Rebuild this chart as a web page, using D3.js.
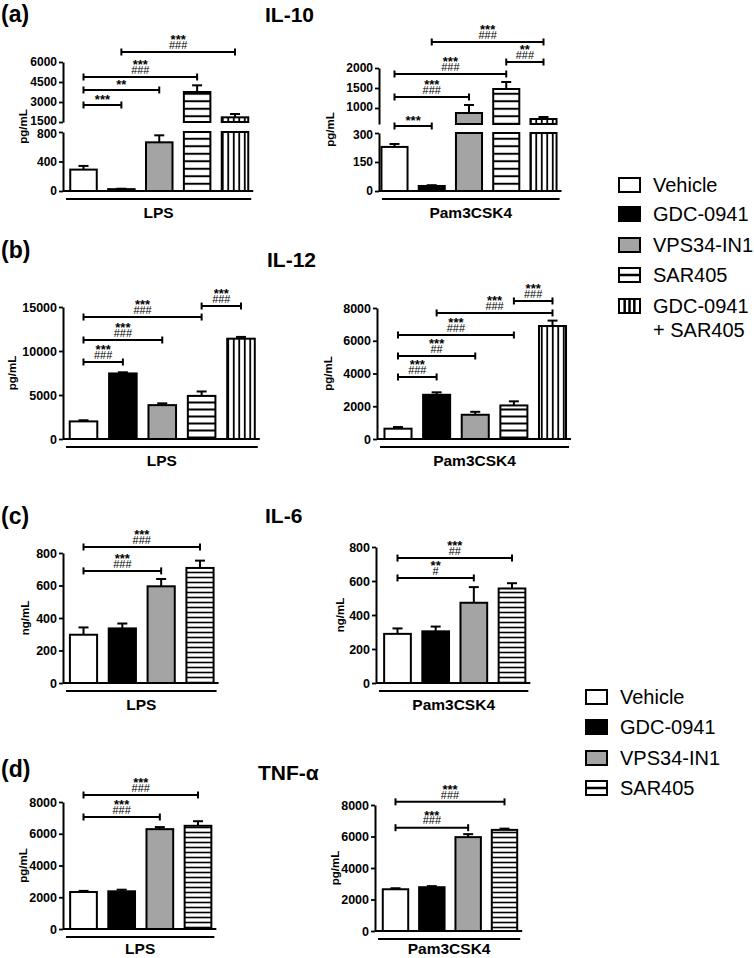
<!DOCTYPE html>
<html><head><meta charset="utf-8">
<script src="https://cdn.jsdelivr.net/npm/d3@7"></script>
<style>
body{margin:0;background:#fff}
svg{display:block}
text{font-family:"Liberation Sans",Arial,Helvetica,sans-serif;fill:#000}
.sig{width:80px;text-align:center;white-space:pre;font-family:"Liberation Sans",Arial,sans-serif;
  font-size:11px;line-height:5.5px;color:#000;margin:0}
.sig::first-line{font-weight:bold;font-size:13px}
</style>
</head><body>
<svg id="chart" width="754" height="958"></svg>
<script>
// ---------------- DATA ----------------
const treatments5 = ["Vehicle","GDC-0941","VPS34-IN1","SAR405","GDC-0941 + SAR405"];
const treatments4 = ["Vehicle","GDC-0941","VPS34-IN1","SAR405"];
const stimuli = ["LPS","Pam3CSK4"];
const cytokines = ["IL-10","IL-12","IL-6","TNF-\u03b1"];
const panelLetters = ["(a)","(b)","(c)","(d)"];

// IL-10 (pg/mL)
const il10LpsMean = [290, 25, 660, 3750, 1850];
const il10LpsErr  = [50, 6, 95, 500, 250];
const il10PamMean = [228, 26, 875, 1475, 725];
const il10PamErr  = [15, 4, 200, 175, 50];
// IL-12 (pg/mL)
const il12LpsMean = [2000, 7450, 3850, 4900, 11400];
const il12LpsErr  = [130, 130, 200, 500, 200];
const il12PamMean = [630, 2700, 1480, 2050, 6900];
const il12PamErr  = [100, 150, 180, 250, 330];
// IL-6 (ng/mL)
const il6LpsMean = [297, 336, 595, 708];
const il6LpsErr  = [45, 30, 45, 45];
const il6PamMean = [289, 304, 472, 556];
const il6PamErr  = [32, 28, 92, 31];
// TNF-alpha (pg/mL)
const tnfLpsMean = [2330, 2375, 6290, 6500];
const tnfLpsErr  = [70, 100, 130, 290];
const tnfPamMean = [2650, 2780, 5960, 6420];
const tnfPamErr  = [65, 70, 190, 80];

// tick labels
const il10LpsTicksLow = [0, 400, 800], il10LpsTicksHigh = [1500, 3000, 4500, 6000];
const il10PamTicksLow = [0, 150, 300], il10PamTicksHigh = [1000, 1500, 2000];
const il12LpsTicks = [0, 5000, 10000, 15000];
const il12PamTicks = [0, 2000, 4000, 6000, 8000];
const il6Ticks = [0, 200, 400, 600, 800];
const tnfTicks = [0, 2000, 4000, 6000, 8000];

// significance brackets: [from, to, height (data units), stars, hashes]
const il10LpsSig = [[0,1,2775,"***",""],[0,2,3900,"**",""],[0,3,4875,"***","###"],[1,4,6750,"***","###"]];
const il10PamSig = [[0,1,550,"***",""],[0,2,1275,"***","###"],[0,3,1850,"***","###"],[3,4,2150,"**","###"],[1,4,2650,"***","###"]];
const il12LpsSig = [[0,1,8750,"***","###"],[0,2,11250,"***","###"],[0,3,13860,"***","###"],[3,4,15110,"***","###"]];
const il12PamSig = [[0,1,3790,"***","###"],[0,2,5070,"***","##"],[0,3,6350,"***","###"],[1,4,7700,"***","###"],[3,4,8430,"***","###"]];
const il6LpsSig  = [[0,2,690,"***","###"],[0,3,837,"***","###"]];
const il6PamSig  = [[0,2,618,"**","#"],[0,3,735,"***","##"]];
const tnfLpsSig  = [[0,2,7055,"***","###"],[0,3,8440,"***","###"]];
const tnfPamSig  = [[0,2,6560,"***","###"],[0,3,8200,"***","###"]];

// ---------------- LAYOUT ----------------
const panels = [
 {row:0, cats:treatments5, mean:il10LpsMean, err:il10LpsErr, group:stimuli[0], sig:il10LpsSig, unit:"pg/mL",
  axisX:63, c0:83.5, cN:235, labX:23,
  broken:{low:[0,800], lowPx:[191,132], high:[1500,6000], highPx:[122,62], ticksLow:il10LpsTicksLow, ticksHigh:il10LpsTicksHigh}},
 {row:0, cats:treatments5, mean:il10PamMean, err:il10PamErr, group:stimuli[1], sig:il10PamSig, unit:"pg/mL",
  axisX:379, c0:394.5, cN:543.5, labX:330,
  broken:{low:[0,300], lowPx:[191,133], high:[600,2000], highPx:[124,68], ticksLow:il10PamTicksLow, ticksHigh:il10PamTicksHigh}},
 {row:1, cats:treatments5, mean:il12LpsMean, err:il12LpsErr, group:stimuli[0], sig:il12LpsSig, unit:"pg/mL",
  axisX:63, c0:83.5, cN:241, labX:12, dom:[0,15000], px:[439,307], ticks:il12LpsTicks},
 {row:1, cats:treatments5, mean:il12PamMean, err:il12PamErr, group:stimuli[1], sig:il12PamSig, unit:"pg/mL",
  axisX:377, c0:398, cN:552.5, labX:328, dom:[0,8000], px:[439,308], ticks:il12PamTicks},
 {row:2, cats:treatments4, mean:il6LpsMean, err:il6LpsErr, group:stimuli[0], sig:il6LpsSig, unit:"ng/mL",
  axisX:63, c0:83.5, cN:200, labX:25, dom:[0,800], px:[683,553], ticks:il6Ticks},
 {row:2, cats:treatments4, mean:il6PamMean, err:il6PamErr, group:stimuli[1], sig:il6PamSig, unit:"ng/mL",
  axisX:376, c0:397.5, cN:512, labX:340, dom:[0,800], px:[683,547], ticks:il6Ticks},
 {row:3, cats:treatments4, mean:tnfLpsMean, err:tnfLpsErr, group:stimuli[0], sig:tnfLpsSig, unit:"pg/mL",
  axisX:63, c0:83.5, cN:198, labX:23, dom:[0,8000], px:[929,802], ticks:tnfTicks},
 {row:3, cats:treatments4, mean:tnfPamMean, err:tnfPamErr, group:stimuli[1], sig:tnfPamSig, unit:"pg/mL",
  axisX:375, c0:395.5, cN:504.5, labX:335, dom:[0,8000], px:[931,805], ticks:tnfTicks}
];
const rowStyle = [
 {hSp:7.5, hW:2, vSp:5.5, vW:1.8, letterY:22, titleX:265, titleY:22},
 {hSp:7,   hW:2, vSp:5.5, vW:1.8, letterY:258, titleX:267, titleY:267},
 {hSp:5,   hW:1.6, vSp:5, vW:1.6, letterY:524, titleX:265, titleY:523},
 {hSp:5,   hW:1.6, vSp:5, vW:1.6, letterY:777, titleX:258, titleY:780}
];
const GRAY = "#a4a4a4";
const FONT_TICK = 12.5;

const svg = d3.select("#chart");
const defs = svg.append("defs");
rowStyle.forEach((s, r) => {
  const ph = defs.append("pattern").attr("id","h"+r).attr("patternUnits","userSpaceOnUse")
    .attr("width",10).attr("height",s.hSp);
  ph.append("rect").attr("width",10).attr("height",s.hSp).attr("fill","#fff");
  ph.append("rect").attr("y",(s.hSp - s.hW)/2).attr("width",10).attr("height",s.hW).attr("fill","#000");
  const pv = defs.append("pattern").attr("id","v"+r).attr("patternUnits","userSpaceOnUse")
    .attr("width",s.vSp).attr("height",10);
  pv.append("rect").attr("width",s.vSp).attr("height",10).attr("fill","#fff");
  pv.append("rect").attr("x",(s.vSp - s.vW)/2).attr("width",s.vW).attr("height",10).attr("fill","#000");
});
function fillFor(i, row){
  return ["#fff","#000",GRAY,`url(#h${row})`,`url(#v${row})`][i];
}

function styleAxis(g, size){
  g.select(".domain").attr("stroke","#000").attr("stroke-width",2);
  g.selectAll(".tick line").attr("stroke","#000").attr("stroke-width",1.8);
  g.selectAll(".tick text").attr("font-size",size || FONT_TICK).attr("font-weight","bold")
    .attr("font-family",'"Liberation Sans",Arial,sans-serif').attr("fill","#000");
}
const fmt = d3.format("d");

panels.forEach(p => {
  const g = svg.append("g");
  const n = p.cats.length;
  const step = (p.cN - p.c0) / (n - 1);
  const x = d3.scaleBand().domain(p.cats)
    .range([p.c0 - step/2, p.cN + step/2]).paddingInner(0.3).paddingOuter(0.15);
  const bw = x.bandwidth();
  let yLow, yHigh, y0px, topPx;
  if (p.broken) {
    yLow = d3.scaleLinear().domain(p.broken.low).range(p.broken.lowPx);
    yHigh = d3.scaleLinear().domain(p.broken.high).range(p.broken.highPx);
    const a1 = g.append("g").attr("transform",`translate(${p.axisX},0)`)
      .call(d3.axisLeft(yLow).tickValues(p.broken.ticksLow).tickFormat(fmt).tickSize(4).tickSizeOuter(0).tickPadding(2));
    const a2 = g.append("g").attr("transform",`translate(${p.axisX},0)`)
      .call(d3.axisLeft(yHigh).tickValues(p.broken.ticksHigh).tickFormat(fmt).tickSize(4).tickSizeOuter(0).tickPadding(2));
    styleAxis(a1, 12); styleAxis(a2, 12);
    // keep the two labels at the break apart
    const lowTop = p.broken.ticksLow[p.broken.ticksLow.length-1];
    const highBottom = p.broken.ticksHigh[0];
    a1.selectAll(".tick").filter(d => d === lowTop).select("text").attr("dy","0.48em");
    a2.selectAll(".tick").filter(d => d === highBottom).select("text").attr("dy","0.17em");
    y0px = yLow(0); topPx = yHigh.range()[1];
  } else {
    yLow = d3.scaleLinear().domain(p.dom).range(p.px);
    const a = g.append("g").attr("transform",`translate(${p.axisX},0)`)
      .call(d3.axisLeft(yLow).tickValues(p.ticks).tickFormat(fmt).tickSize(4).tickSizeOuter(0).tickPadding(2));
    styleAxis(a);
    y0px = yLow(0); topPx = yLow.range()[1];
  }
  // y label
  g.append("text").attr("transform",`translate(${p.labX + 4},${(y0px + topPx)/2}) rotate(-90)`)
    .attr("text-anchor","middle").attr("font-size",11.5).attr("font-weight","bold").text(p.unit);

  const lastEnd = x(p.cats[n-1]) + bw;
  // bars
  p.mean.forEach((v, i) => {
    const bx = x(p.cats[i]);
    const fill = fillFor(i, p.row);
    let errScale = yLow;
    if (p.broken) {
      const lowMax = p.broken.low[1], highMin = p.broken.high[0];
      const lt = Math.min(v, lowMax);
      g.append("rect").attr("x",bx).attr("y",yLow(lt)).attr("width",bw).attr("height",yLow(0)-yLow(lt))
        .attr("fill",fill).attr("stroke","#000").attr("stroke-width",2);
      if (v > highMin) {
        g.append("rect").attr("x",bx).attr("y",yHigh(v)).attr("width",bw).attr("height",yHigh(highMin)-yHigh(v))
          .attr("fill",fill).attr("stroke","#000").attr("stroke-width",2);
        errScale = yHigh;
      }
    } else {
      g.append("rect").attr("x",bx).attr("y",yLow(v)).attr("width",bw).attr("height",yLow(0)-yLow(v))
        .attr("fill",fill).attr("stroke","#000").attr("stroke-width",2);
    }
    const cx = bx + bw/2, e = p.err[i];
    g.append("line").attr("x1",cx).attr("x2",cx).attr("y1",errScale(v)).attr("y2",errScale(v+e))
      .attr("stroke","#000").attr("stroke-width",2);
    g.append("line").attr("x1",cx-5).attr("x2",cx+5).attr("y1",errScale(v+e)).attr("y2",errScale(v+e))
      .attr("stroke","#000").attr("stroke-width",2);
  });
  // baseline x axis
  g.append("line").attr("x1",p.axisX).attr("x2",lastEnd+5).attr("y1",y0px).attr("y2",y0px)
    .attr("stroke","#000").attr("stroke-width",2);
  // group line + label
  const gy = y0px + 8;
  g.append("line").attr("x1",p.axisX+3).attr("x2",lastEnd+3).attr("y1",gy).attr("y2",gy)
    .attr("stroke","#000").attr("stroke-width",2);
  g.append("text").attr("x",(p.axisX+3+lastEnd+3)/2).attr("y",Math.min(gy+19, 954)).attr("text-anchor","middle")
    .attr("font-size",15.5).attr("font-weight","bold").text(p.group);
  // significance
  const sigScale = p.broken ? yHigh : yLow;
  p.sig.forEach(([a, b, h, stars, hashes]) => {
    const xa = x(p.cats[a]) + bw/2, xb = x(p.cats[b]) + bw/2, yy = sigScale(h);
    g.append("line").attr("x1",xa).attr("x2",xb).attr("y1",yy).attr("y2",yy).attr("stroke","#000").attr("stroke-width",2);
    [xa, xb].forEach(xx => g.append("line").attr("x1",xx).attr("x2",xx).attr("y1",yy-3.5).attr("y2",yy+3.5)
      .attr("stroke","#000").attr("stroke-width",2));
    const xm = (xa + xb)/2;
    const fo = g.append("foreignObject").attr("x",xm-40).attr("y",yy-26).attr("width",80).attr("height",26)
      .style("overflow","visible");
    fo.append("xhtml:div").attr("class","sig")
      .style("padding-top", (hashes ? 11.2 : 18.2) + "px")
      .text(hashes ? stars + "\n" + hashes : stars);
  });
});

// panel letters and titles
rowStyle.forEach((s, r) => {
  svg.append("text").attr("x",1).attr("y",s.letterY).attr("font-size",23).attr("font-weight","bold").text(panelLetters[r]);
  svg.append("text").attr("x",s.titleX).attr("y",s.titleY).attr("font-size",21).attr("font-weight","bold").text(cytokines[r]);
});

// legends
function legend(x0, ys, items, textX) {
  const g = svg.append("g");
  items.forEach((name, i) => {
    const cy = ys[i], bx = x0, by = cy - 7, w = 21, h = 14;
    g.append("rect").attr("x",bx).attr("y",by).attr("width",w).attr("height",h)
      .attr("fill", i===1 ? "#000" : i===2 ? GRAY : "#fff").attr("stroke","#000").attr("stroke-width",2);
    if (i === 3) g.append("line").attr("x1",bx).attr("x2",bx+w).attr("y1",cy).attr("y2",cy).attr("stroke","#000").attr("stroke-width",2.5);
    if (i === 4) [0.27,0.5,0.73].forEach(f => g.append("line").attr("x1",bx+w*f).attr("x2",bx+w*f)
      .attr("y1",by).attr("y2",by+h).attr("stroke","#000").attr("stroke-width",2.5));
    const parts = name.split(" + ");
    g.append("text").attr("x",textX).attr("y",cy+7).attr("font-size",20).text(parts[0]);
    if (parts.length > 1) g.append("text").attr("x",textX).attr("y",cy+31).attr("font-size",20).text("+ " + parts[1]);
  });
}
legend(619, [185,214,245,275,306], treatments5, 653);
legend(586, [697,727,758,788], treatments4, 620);
</script>
</body></html>
